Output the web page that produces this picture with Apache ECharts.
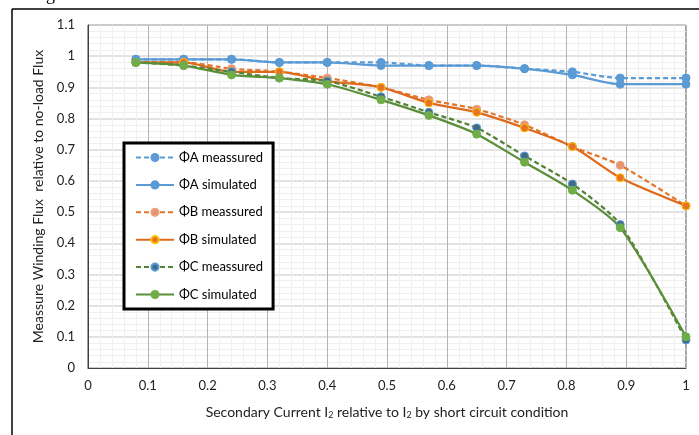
<!DOCTYPE html>
<html>
<head>
<meta charset="utf-8">
<script src="https://cdn.jsdelivr.net/npm/echarts@6/dist/echarts.min.js"></script>
<style>
  html, body { margin: 0; padding: 0; background: #fff; }
  #main { width: 699px; height: 435px; }
</style>
</head>
<body>
<div id="main"></div>
<script>
// current ratio I2 / I2sc
var currentX = [0.08, 0.16, 0.24, 0.32, 0.40, 0.49, 0.57, 0.65, 0.73, 0.81, 0.89, 1.0];

var fluxAMeas = [0.99, 0.99, 0.99, 0.98, 0.98, 0.98, 0.97, 0.97, 0.96, 0.95, 0.93, 0.93];
var fluxASim  = [0.99, 0.99, 0.99, 0.98, 0.98, 0.97, 0.97, 0.97, 0.96, 0.94, 0.91, 0.91];
var fluxBMeas = [0.98, 0.98, 0.96, 0.95, 0.93, 0.90, 0.86, 0.83, 0.78, 0.71, 0.65, 0.52];
var fluxBSim  = [0.98, 0.98, 0.95, 0.95, 0.92, 0.90, 0.85, 0.82, 0.77, 0.71, 0.61, 0.52];
var fluxCMeas = [0.98, 0.97, 0.95, 0.93, 0.92, 0.87, 0.82, 0.77, 0.68, 0.59, 0.46, 0.09];
var fluxCSim  = [0.98, 0.97, 0.94, 0.93, 0.91, 0.86, 0.81, 0.75, 0.66, 0.57, 0.45, 0.10];

var seriesNames = ['ΦA meassured', 'ΦA simulated', 'ΦB meassured', 'ΦB simulated', 'ΦC meassured', 'ΦC simulated'];

function pairs(vals) {
    return currentX.map(function (x, i) { return [x, vals[i]]; });
}

function mkSeries(name, vals, lineColor, dashed, fill, border) {
    return {
        name: name,
        type: 'line',
        data: pairs(vals),
        smooth: 0.25,
        symbol: 'circle',
        symbolSize: 8,
        lineStyle: { color: lineColor, width: 2.25, type: dashed ? [5, 3] : 'solid' },
        itemStyle: { color: fill, borderColor: border, borderWidth: 1 }
    };
}

var font = 'Lato, "Open Sans", sans-serif';

var myChart = echarts.init(document.getElementById('main'), null, { renderer: 'canvas' });

myChart.setOption({
    animation: false,
    textStyle: { fontFamily: font },
    graphic: [
        // clipped line of the surrounding document
        { type: 'text', left: -2, top: -14, style: { text: 'that is given relative to the rated fuse flux.', font: '18px "Liberation Serif", serif', fill: '#000' } },
        // outer frame
        { type: 'line', shape: { x1: 12, y1: 9, x2: 699, y2: 9 }, style: { stroke: '#000', lineWidth: 1.5 } },
        { type: 'line', shape: { x1: 12, y1: 9, x2: 12, y2: 435 }, style: { stroke: '#000', lineWidth: 1.5 } }
    ],
    grid: {
        left: 88, top: 25, width: 598, height: 343,
        show: true, borderColor: '#404040', borderWidth: 1
    },
    legend: {
        orient: 'vertical',
        left: 124, top: 143,
        data: seriesNames,
        itemWidth: 38, itemHeight: 9,
        itemGap: 12.4,
        padding: [7, 10, 7, 11],
        borderColor: '#000', borderWidth: 3,
        backgroundColor: '#fff',
        textStyle: { fontSize: 13, lineHeight: 15, color: '#000', fontFamily: font }
    },
    xAxis: {
        type: 'value', min: 0, max: 1, interval: 0.1,
        name: '{t|Secondary Current I}{s|2}{t| relative to I}{s|2}{t| by short circuit condition}',
        nameLocation: 'middle', nameGap: 36,
        nameTextStyle: {
            fontSize: 14, color: '#222',
            rich: {
                t: { fontSize: 14, color: '#222', fontFamily: font },
                s: { fontSize: 9, color: '#222', fontFamily: font, verticalAlign: 'bottom', padding: [7, 0, 0, 0] }
            }
        },
        axisLine: { show: true, lineStyle: { color: '#404040' } },
        axisTick: { show: false },
        axisLabel: { fontSize: 13, color: '#222', margin: 11 },
        splitLine: { show: true, lineStyle: { color: '#b4b4b4', width: 1 } },
        minorTick: { show: false, splitNumber: 5 },
        minorSplitLine: { show: true, lineStyle: { color: '#efefef', width: 1 } }
    },
    yAxis: {
        type: 'value', min: 0, max: 1.1, interval: 0.1,
        name: 'Meassure Winding Flux  relative to no-load Flux',
        nameLocation: 'middle', nameGap: 40,
        nameTextStyle: { fontSize: 14, color: '#222' },
        axisLine: { show: true, lineStyle: { color: '#404040' } },
        axisTick: { show: false },
        axisLabel: { fontSize: 13, color: '#222', margin: 13 },
        splitLine: { show: true, lineStyle: { color: '#dadada', width: 1.5 } },
        minorTick: { show: false, splitNumber: 5 },
        minorSplitLine: { show: true, lineStyle: { color: '#efefef', width: 1 } }
    },
    series: [
        mkSeries(seriesNames[0], fluxAMeas, '#5B9BD5', true, '#5B9BD5', '#5B9BD5'),
        mkSeries(seriesNames[1], fluxASim, '#5B9BD5', false, '#5B9BD5', '#5B9BD5'),
        mkSeries(seriesNames[2], fluxBMeas, '#E2762E', true, '#E59570', '#E8A27F'),
        mkSeries(seriesNames[3], fluxBSim, '#DE6A1C', false, '#E67325', '#FFC000'),
        mkSeries(seriesNames[4], fluxCMeas, '#548235', true, '#3F6C84', '#5B9BD5'),
        mkSeries(seriesNames[5], fluxCSim, '#5A8F3A', false, '#70AD47', '#70AD47')
    ]
});
</script>
</body>
</html>
